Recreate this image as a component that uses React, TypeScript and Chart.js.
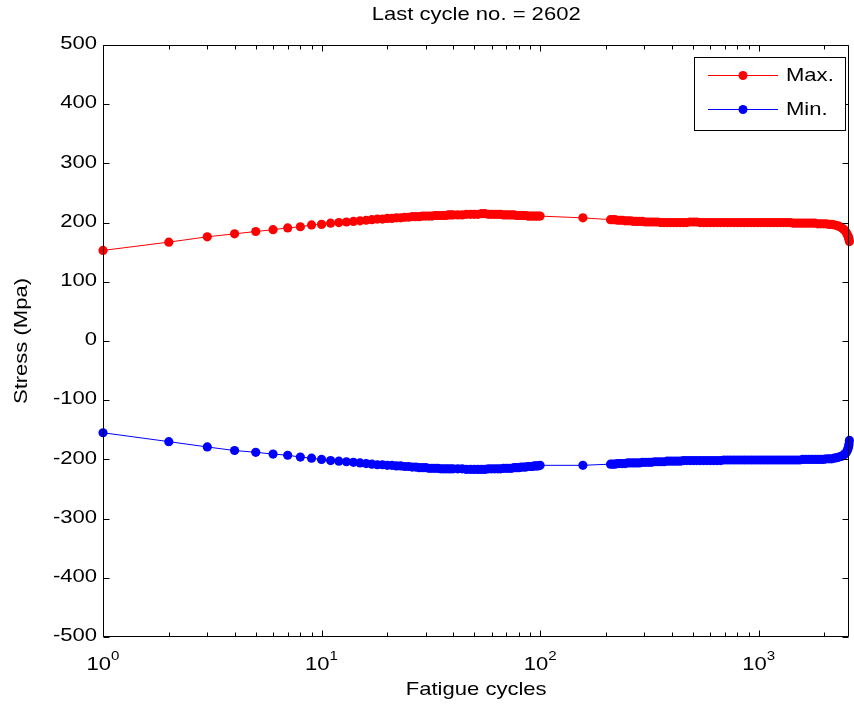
import React, { useEffect, useRef } from "react";
import { Chart, registerables } from "chart.js";

Chart.register(...registerables);

// ---- Data ----
const cycles = [
  1, 2, 3, 4, 5, 6, 7, 8, 9, 10,
  11, 12, 13, 14, 15, 16, 17, 18, 19, 20,
  21, 22, 23, 24, 25, 26, 27, 28, 29, 30,
  31, 32, 33, 34, 35, 36, 37, 38, 39, 40,
  42, 44, 46, 48, 50, 52, 54, 56, 58, 60,
  62, 64, 66, 68, 70, 72, 74, 76, 78, 80,
  82, 84, 86, 88, 90, 92, 94, 96, 98, 100,
  157,
  210, 215, 220, 226, 232, 238, 245, 252, 260, 268,
  276, 285, 294, 303, 313, 323, 334, 345, 357, 369,
  382, 395, 409, 423, 438, 453, 469, 486, 503, 521,
  540, 560, 580, 601, 623, 646, 670, 694, 720, 746,
  773, 801, 830, 860, 891, 923, 956, 990, 1025, 1061,
  1098, 1136, 1176, 1217, 1259, 1302, 1347, 1393, 1440, 1489,
  1539, 1590, 1642, 1696, 1751, 1807, 1864, 1922, 1981, 2040,
  2100, 2160, 2220, 2280, 2330, 2380, 2420, 2460, 2490, 2520,
  2545, 2565, 2580, 2592, 2602,
];

const maxStress = [
  153, 167, 176, 181, 185, 188, 191, 193, 196, 197,
  199, 200, 201, 202, 203, 204, 205, 206, 206, 207,
  207, 208, 208, 209, 209, 210, 210, 210, 211, 211,
  211, 211, 212, 212, 212, 212, 212, 213, 213, 213,
  213, 213, 214, 214, 214, 214, 215, 215, 214, 214,
  214, 214, 214, 213, 213, 213, 213, 213, 212, 212,
  212, 212, 212, 211, 211, 211, 211, 211, 211, 211,
  208,
  205, 205, 205, 204, 204, 204, 203, 203, 203, 202,
  202, 202, 202, 201, 201, 201, 201, 201, 200, 200,
  200, 200, 200, 200, 200, 200, 200, 201, 201, 201,
  200, 200, 200, 200, 200, 200, 200, 200, 200, 200,
  200, 200, 200, 200, 200, 200, 200, 200, 200, 200,
  200, 200, 200, 200, 200, 200, 200, 200, 199, 199,
  199, 199, 199, 199, 199, 199, 198, 198, 198, 198,
  197, 197, 196, 195, 194, 192, 190, 188, 186, 183,
  180, 177, 175, 172, 168,
];

const minStress = [
  -155, -170, -179, -185, -188, -191, -193, -196, -198, -200,
  -202, -203, -204, -205, -206, -207, -208, -209, -209, -210,
  -210, -211, -211, -212, -212, -213, -213, -214, -214, -214,
  -215, -215, -215, -215, -216, -216, -216, -216, -216, -216,
  -216, -216, -217, -217, -217, -217, -217, -217, -216, -216,
  -216, -216, -216, -215, -215, -215, -215, -214, -214, -214,
  -213, -213, -213, -212, -212, -212, -211, -211, -211, -210,
  -210,
  -208, -208, -208, -207, -207, -207, -207, -206, -206, -206,
  -206, -206, -205, -205, -205, -205, -204, -204, -204, -204,
  -203, -203, -203, -203, -203, -202, -202, -202, -202, -202,
  -202, -202, -202, -202, -202, -202, -202, -201, -201, -201,
  -201, -201, -201, -201, -201, -201, -201, -201, -201, -201,
  -201, -201, -201, -201, -201, -201, -201, -201, -201, -201,
  -201, -200, -200, -200, -200, -200, -200, -200, -200, -199,
  -199, -199, -198, -197, -196, -195, -194, -192, -190, -188,
  -185, -182, -178, -174, -168,
];

const yTicks = [-500, -400, -300, -200, -100, 0, 100, 200, 300, 400, 500];
const xMajorTicks = [1, 10, 100, 1000];
const xMajorExponents = ["0", "1", "2", "3"];
const xMinorTicks = [2, 3, 4, 5, 6, 7, 8, 9, 20, 30, 40, 50, 60, 70, 80, 90, 200, 300, 400, 500, 600, 700, 800, 900, 2000];
const seriesNames = ["Max.", "Min."];
const seriesColors = ["#ff0000", "#0000ff"];
const titleText = "Last cycle no. = 2602";
const xTitle = "Fatigue cycles";
const yTitle = "Stress (Mpa)";
const lastCycle = 2602;

const FONT = '"Liberation Sans", Arial, Helvetica, sans-serif';
const FS = 19;
const SX = 1.16;

function drawText(
  ctx: CanvasRenderingContext2D,
  text: string,
  x: number,
  y: number,
  align: CanvasTextAlign,
  baseline: CanvasTextBaseline,
  size: number = FS,
  rotate: number = 0
) {
  ctx.save();
  ctx.font = `${size}px ${FONT}`;
  ctx.textAlign = align;
  ctx.textBaseline = baseline;
  ctx.fillStyle = "#000";
  ctx.translate(x, y);
  if (rotate) ctx.rotate(rotate);
  ctx.scale(SX, 1);
  ctx.fillText(text, 0, 0);
  ctx.restore();
}

const matlabPlugin = {
  id: "matlabAxes",
  afterDraw(chart: any) {
    const ctx: CanvasRenderingContext2D = chart.ctx;
    const a = chart.chartArea;
    const xs = chart.scales.x;
    const ys = chart.scales.y;
    const L = Math.round(a.left) + 0.5;
    const R = Math.round(a.right) - 0.5;
    const T = Math.round(a.top) + 0.5;
    const B = Math.round(a.bottom) - 0.5;

    ctx.save();
    ctx.strokeStyle = "#000";
    ctx.lineWidth = 1;
    ctx.beginPath();
    ctx.rect(L, T, R - L, B - T);
    ctx.stroke();

    ctx.beginPath();
    for (const v of yTicks) {
      const py = Math.round(ys.getPixelForValue(v)) + 0.5;
      ctx.moveTo(L, py);
      ctx.lineTo(L + 6, py);
      ctx.moveTo(R, py);
      ctx.lineTo(R - 6, py);
    }
    for (const v of xMajorTicks) {
      const px = Math.round(xs.getPixelForValue(v)) + 0.5;
      ctx.moveTo(px, B);
      ctx.lineTo(px, B - 6);
      ctx.moveTo(px, T);
      ctx.lineTo(px, T + 6);
    }
    for (const v of xMinorTicks) {
      const px = Math.round(xs.getPixelForValue(v)) + 0.5;
      ctx.moveTo(px, B);
      ctx.lineTo(px, B - 4);
      ctx.moveTo(px, T);
      ctx.lineTo(px, T + 4);
    }
    ctx.stroke();
    ctx.restore();

    for (const v of yTicks) {
      const py = ys.getPixelForValue(v);
      drawText(ctx, String(v), a.left - 6, py - 1, "right", "middle");
    }
    xMajorTicks.forEach((v, i) => {
      const px = xs.getPixelForValue(v);
      ctx.save();
      ctx.font = `${FS}px ${FONT}`;
      const w1 = ctx.measureText("10").width * SX;
      ctx.font = `${13}px ${FONT}`;
      const w2 = ctx.measureText(xMajorExponents[i]).width * SX;
      ctx.restore();
      const start = px - (w1 + w2) / 2;
      drawText(ctx, "10", start, 670, "left", "alphabetic");
      drawText(ctx, xMajorExponents[i], start + w1, 660, "left", "alphabetic", 13);
    });

    const cx = (a.left + a.right) / 2;
    drawText(ctx, titleText, cx, 15, "center", "middle");
    drawText(ctx, xTitle, cx, 690, "center", "middle");
    drawText(ctx, yTitle, 22, (a.top + a.bottom) / 2, "center", "middle", FS, -Math.PI / 2);

    ctx.save();
    ctx.fillStyle = "#fff";
    ctx.strokeStyle = "#000";
    ctx.lineWidth = 1;
    ctx.fillRect(694.5, 57.5, 151, 73);
    ctx.strokeRect(694.5, 57.5, 151, 73);
    const rows = [75.5, 109.5];
    seriesNames.forEach((name, i) => {
      const y = rows[i];
      ctx.strokeStyle = seriesColors[i];
      ctx.beginPath();
      ctx.moveTo(708, y);
      ctx.lineTo(778, y);
      ctx.stroke();
      ctx.fillStyle = seriesColors[i];
      ctx.beginPath();
      ctx.arc(743, y, 4.5, 0, Math.PI * 2);
      ctx.fill();
      drawText(ctx, name, 786, y, "left", "middle");
    });
    ctx.restore();
  },
};

export default function App() {
  const canvasRef = useRef<HTMLCanvasElement | null>(null);

  useEffect(() => {
    const canvas = canvasRef.current;
    if (!canvas) return;
    const datasets = [maxStress, minStress].map((vals, i) => ({
      label: seriesNames[i],
      data: cycles.map((c, j) => ({ x: c, y: vals[j] })),
      borderColor: seriesColors[i],
      backgroundColor: seriesColors[i],
      pointBackgroundColor: seriesColors[i],
      pointBorderColor: seriesColors[i],
      pointBorderWidth: 0,
      pointRadius: 4.6,
      borderWidth: 1,
      tension: 0,
      clip: false as any,
    }));
    const chart = new Chart(canvas, {
      type: "line",
      data: { datasets },
      options: {
        responsive: false,
        animation: false,
        events: [],
        layout: { padding: { left: 103, right: 1, top: 45, bottom: 71 } },
        plugins: {
          legend: { display: false },
          title: { display: false },
          tooltip: { enabled: false },
        },
        scales: {
          x: { type: "logarithmic", min: 1, max: lastCycle, display: false },
          y: { type: "linear", min: -500, max: 500, display: false },
        },
      },
      plugins: [matlabPlugin],
    });
    return () => chart.destroy();
  }, []);

  return (
    <div style={{ position: "absolute", left: 0, top: 0, width: 854, height: 708, background: "#fff" }}>
      <canvas ref={canvasRef} width={854} height={708} style={{ display: "block" }} />
    </div>
  );
}
